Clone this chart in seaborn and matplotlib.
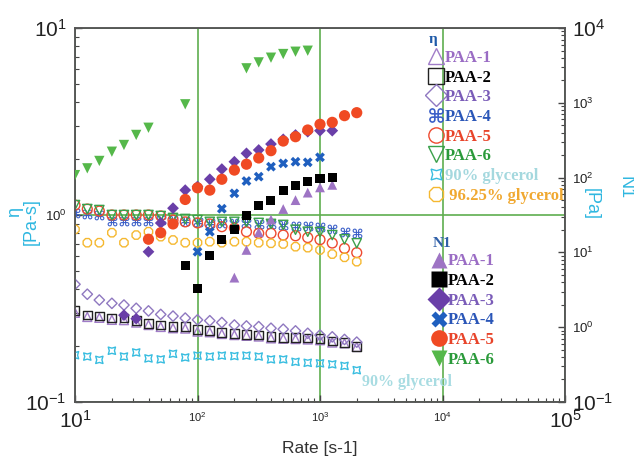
import numpy as np
import matplotlib
matplotlib.use("Agg")
import matplotlib.pyplot as plt
import seaborn as sns
from matplotlib.lines import Line2D
from matplotlib.ticker import LogLocator, NullFormatter
from matplotlib.textpath import TextPath
from matplotlib.font_manager import FontProperties
from matplotlib.path import Path
from matplotlib.transforms import Affine2D

sns.set_theme(style="white")
plt.rcParams['font.family'] = ['Liberation Sans', 'DejaVu Sans']
plt.rcParams['mathtext.fontset'] = 'custom'
plt.rcParams['mathtext.rm'] = 'Liberation Sans'
plt.rcParams['mathtext.it'] = 'Liberation Sans:italic'
plt.rcParams['mathtext.bf'] = 'Liberation Sans:bold'

nan = np.nan

# ---------------- data ----------------
rate = [10, 12.6, 15.8, 20, 25.1, 31.6, 39.8, 50.1, 63.1, 79.4, 100, 126,
        158, 200, 251, 316, 398, 501, 631, 794, 1000, 1259, 1585, 1995]

# viscosity eta [Pa-s]
eta_paa1 = [0.300, 0.285, 0.282, 0.275, 0.274, 0.266, 0.258, 0.252, 0.248, 0.247, 0.238, 0.236,
            0.231, 0.228, 0.226, 0.224, 0.219, 0.218, 0.217, 0.216, 0.214, 0.208, 0.206, 0.197]
eta_paa2 = [0.310, 0.292, 0.288, 0.281, 0.281, 0.272, 0.264, 0.258, 0.253, 0.253, 0.243, 0.241,
            0.236, 0.233, 0.230, 0.228, 0.223, 0.222, 0.221, 0.220, 0.218, 0.212, 0.209, 0.199]
eta_paa3 = [0.426, 0.377, 0.351, 0.337, 0.330, 0.317, 0.307, 0.294, 0.288, 0.281, 0.275, 0.272,
            0.266, 0.258, 0.255, 0.253, 0.248, 0.245, 0.240, 0.233, 0.228, 0.223, 0.216, 0.209]
eta_paa4 = [1.025, 1.01, 1.0, 0.933, 0.925, 0.933, 0.933, 0.94, 0.94, 0.93, 0.919, 0.907,
            0.907, 0.907, 0.907, 0.896, 0.896, 0.885, 0.876, 0.874, 0.866, 0.839, 0.814, 0.798]
eta_paa5 = [1.13, 1.076, 1.05, 1.0, 1.0, 1.0, 1.0, 0.988, 0.94, 0.919, 0.907, 0.896,
            0.866, 0.851, 0.814, 0.798, 0.798, 0.781, 0.774, 0.757, 0.738, 0.708, 0.663, 0.629]
eta_paa6 = [1.13, 1.076, 1.063, 1.0, 1.0, 1.0, 1.0, 0.988, 0.964, 0.952, 0.940, 0.919,
            0.919, 0.919, 0.919, 0.907, 0.896, 0.885, 0.834, 0.814, 0.811, 0.781, 0.741, 0.706]
eta_gly90 = [0.178, 0.175, 0.168, 0.188, 0.175, 0.184, 0.171, 0.169, 0.181, 0.173, 0.177, 0.175,
             0.177, 0.176, 0.177, 0.175, 0.169, 0.169, 0.164, 0.162, 0.161, 0.159, 0.156, 0.148]
eta_gly96 = [0.838, 0.711, 0.711, 0.804, 0.711, 0.781, 0.814, 0.766, 0.735, 0.711, 0.711, 0.720,
             0.711, 0.720, 0.720, 0.711, 0.706, 0.700, 0.677, 0.669, 0.650, 0.618, 0.594, 0.563]

# first normal stress difference N1 [Pa]
n1_paa1 = [nan]*13 + [4.6, 10.8, 18.6, 27.4, 38, 50, 63, 74, 80] + [nan]*2
n1_paa2 = [nan]*9 + [6.6, 3.3, 9.2, 15, 20.4, 30.7, 43, 50, 67, 78, 90, 96, 99] + [nan]*2
n1_paa3 = [nan]*4 + [1.45, 1.3, 10.2, 24.7, 39, 68, 76, 95, 130, 163, 211, 234, 281, 325,
                     371, 411, 424, 424] + [nan]*2
n1_paa4 = [nan]*10 + [10.2, 18.9, 38.4, 61.6, 90, 103, 140, 155, 163, 160, 187] + [nan]*3
n1_paa5 = [nan]*6 + [15, 18.3, 24, 51, 73, 68, 95, 126, 151, 183, 229, 308, 352, 433,
                     516, 548, 673, 738]
n1_paa6 = [108, 133, 167, 222, 273, 372, 464, nan, nan, 955, nan, nan, nan, nan,
           2890, 3470, 4010, 4490, 4820, 4970, nan, nan, nan, nan]

series_names = ['PAA-1', 'PAA-2', 'PAA-3', 'PAA-4', 'PAA-5', 'PAA-6']
gly_names = ['90% glycerol', ' 96.25% glycerol']

# ---------------- styling ----------------
_tp = TextPath((0, 0), '\u2318', size=1, prop=FontProperties(family='DejaVu Sans', weight='bold'))
_ext = _tp.get_extents()
_tp = _tp.transformed(Affine2D().translate(-(_ext.x0 + _ext.x1) / 2, -(_ext.y0 + _ext.y1) / 2))
cmd_marker = Path(_tp.vertices, _tp.codes)

eta_colors = ['#a07cc8', '#222222', '#8f78c0', '#3b5fc8', '#ee4a30', '#3aa04a', '#38bde0', '#f5b830']
eta_markers = ['^', 's', 'D', cmd_marker, 'o', 'v', (4, 1, 45), '8']
eta_sizes = [42, 40, 28, 75, 50, 45, 55, 42]
n1_colors = ['#9e74c4', '#000000', '#6a3fa8', '#1f5fbf', '#f04a23', '#55b84a']
n1_markers = ['^', 's', 'D', 'X', 'o', 'v']
n1_sizes = [50, 42, 36, 50, 65, 55]
text_colors = ['#9a6cc4', '#000000', '#7a5cb8', '#2a56b8', '#e8442a', '#2a9a3a', '#a4d8de', '#f0a830']
grid_green = '#5fae4f'
cyan = '#2fb7e0'

fig = plt.figure(figsize=(6.34, 4.59), dpi=100)
ax = fig.add_axes([75 / 634, 1 - 402 / 459, 490 / 634, 374 / 459])
ax2 = ax.twinx()
for a in (ax, ax2):
    a.set_xscale('log')
    a.set_yscale('log')
ax.set_xlim(10, 1e5)
ax.set_ylim(0.1, 10)
ax2.set_ylim(0.1, 1e4)

eta_data = [eta_paa1, eta_paa2, eta_paa3, eta_paa4, eta_paa5, eta_paa6, eta_gly90, eta_gly96]
for i, ys in enumerate(eta_data):
    c = eta_colors[i]
    if i == 3:
        sns.scatterplot(x=rate, y=ys, ax=ax, marker=eta_markers[i], s=eta_sizes[i],
                        color=c, facecolor=c, edgecolor=c, linewidth=0, zorder=3)
    else:
        sns.scatterplot(x=rate, y=ys, ax=ax, marker=eta_markers[i], s=eta_sizes[i],
                        color=c, facecolor='none', edgecolor=c, linewidth=1.0, zorder=3)

n1_data = [n1_paa1, n1_paa2, n1_paa3, n1_paa4, n1_paa5, n1_paa6]
for i, ys in enumerate(n1_data):
    c = n1_colors[i]
    sns.scatterplot(x=rate, y=ys, ax=ax2, marker=n1_markers[i], s=n1_sizes[i],
                    color=c, facecolor=c, edgecolor='none', linewidth=0, zorder=4)

# grid
ax.set_axisbelow(True)
ax.grid(True, which='major', axis='both', color=grid_green, lw=1.2)
ax2.grid(False)

# spines / ticks
for a in (ax, ax2):
    for s in a.spines.values():
        s.set_color('#555555')
        s.set_linewidth(1.1)
        s.set_visible(True)

ax.set_xticks([10, 100, 1e3, 1e4, 1e5])
ax.set_xticklabels([r'$10^{1}$', r'$10^{2}$', r'$10^{3}$', r'$10^{4}$', r'$10^{5}$'])
for lbl, sz in zip(ax.get_xticklabels(), [15, 8, 8, 8, 15]):
    lbl.set_fontsize(sz)
ax.set_yticks([0.1, 1, 10])
ax.set_yticklabels([r'$10^{-1}$', r'$10^{0}$', r'$10^{1}$'])
for lbl, sz in zip(ax.get_yticklabels(), [15, 9.5, 15]):
    lbl.set_fontsize(sz)
ax2.set_yticks([0.1, 1, 10, 100, 1e3, 1e4])
ax2.set_yticklabels([r'$10^{-1}$', r'$10^{0}$', r'$10^{1}$', r'$10^{2}$', r'$10^{3}$', r'$10^{4}$'])
for lbl, sz in zip(ax2.get_yticklabels(), [15, 9.5, 9.5, 9.5, 9.5, 15]):
    lbl.set_fontsize(sz)

ax.xaxis.set_minor_locator(LogLocator(base=10, subs=np.arange(2, 10)))
ax.xaxis.set_minor_formatter(NullFormatter())
ax.yaxis.set_minor_locator(LogLocator(base=10, subs=np.arange(2, 10)))
ax.yaxis.set_minor_formatter(NullFormatter())
ax2.yaxis.set_minor_locator(LogLocator(base=10, subs=np.arange(2, 10)))
ax2.yaxis.set_minor_formatter(NullFormatter())

ax.tick_params(axis='x', which='both', direction='in', bottom=True, top=False, colors='#444444',
               labelcolor='#222222', pad=6)
ax.tick_params(axis='y', which='both', direction='in', left=True, right=False, colors='#444444',
               labelcolor='#222222', pad=6)
ax2.tick_params(axis='y', which='both', direction='in', right=True, left=False, colors='#444444',
                labelcolor='#222222', pad=5)
for a in (ax, ax2):
    a.tick_params(which='major', length=5, width=1)
    a.tick_params(which='minor', length=3, width=0.8)

ax.set_xlabel('Rate [s-1]', fontsize=12.5, color='#333333', labelpad=6)
ax.set_ylabel('')
ax2.set_ylabel('')

# axis titles (two-line, cyan)
fig.text(15 / 634, 1 - 212 / 459, '\u03b7', rotation=90, color=cyan, fontsize=13,
         ha='center', va='center')
fig.text(31 / 634, 1 - 222 / 459, '[Pa-s]', rotation=90, color=cyan, fontsize=13,
         ha='center', va='center')
fig.text(591 / 634, 1 - 204 / 459, '[Pa]', rotation=-90, color=cyan, fontsize=13,
         ha='center', va='center')
fig.text(625 / 634, 1 - 188 / 459, 'N1', rotation=-90, color=cyan, fontsize=13,
         ha='center', va='center')

# legends
serif = ['Liberation Serif', 'DejaVu Serif']
h_eta = [Line2D([], [], ls='none', marker=eta_markers[i], ms=11 if i != 3 else 13,
                mfc=('none' if i != 3 else eta_colors[i]), mec=eta_colors[i],
                mew=(1.0 if i != 3 else 0)) for i in range(8)]
leg1 = ax2.legend(handles=h_eta, labels=series_names + gly_names, title='\u03b7',
                  loc='upper left', bbox_to_anchor=(0.722, 0.986), frameon=False,
                  prop=dict(family=serif, weight='bold', size=12),
                  title_fontproperties=dict(family=serif, weight='bold', size=11),
                  handlelength=0.85, handletextpad=0.1, labelspacing=0.22,
                  borderpad=0, borderaxespad=0, alignment='left')
for t, c in zip(leg1.get_texts(), text_colors):
    t.set_color(c)
    t.set_clip_box(ax2.bbox)
    t.set_clip_on(True)
leg1.get_title().set_color('#1f5aa8')
ax2.add_artist(leg1)

h_n1 = [Line2D([], [], ls='none', marker=n1_markers[i], ms=12, mfc=n1_colors[i],
               mec='none') for i in range(6)]
leg2 = ax2.legend(handles=h_n1, labels=series_names, title='N1',
                  loc='upper left', bbox_to_anchor=(0.729, 0.442), frameon=False,
                  prop=dict(family=serif, weight='bold', size=12),
                  title_fontproperties=dict(family=serif, weight='bold', size=11),
                  handlelength=0.85, handletextpad=0.1, labelspacing=0.22,
                  borderpad=0, borderaxespad=0, alignment='left')
for t, c in zip(leg2.get_texts(), text_colors[:6]):
    t.set_color(c)
leg2.get_title().set_color('#3060a8')

ax.text(2200, 0.128, '90% glycerol', color='#a8dce2', fontsize=11.5, fontweight='bold',
        family=serif, ha='left', va='center', zorder=5)

fig.savefig('out.png', dpi=100)
